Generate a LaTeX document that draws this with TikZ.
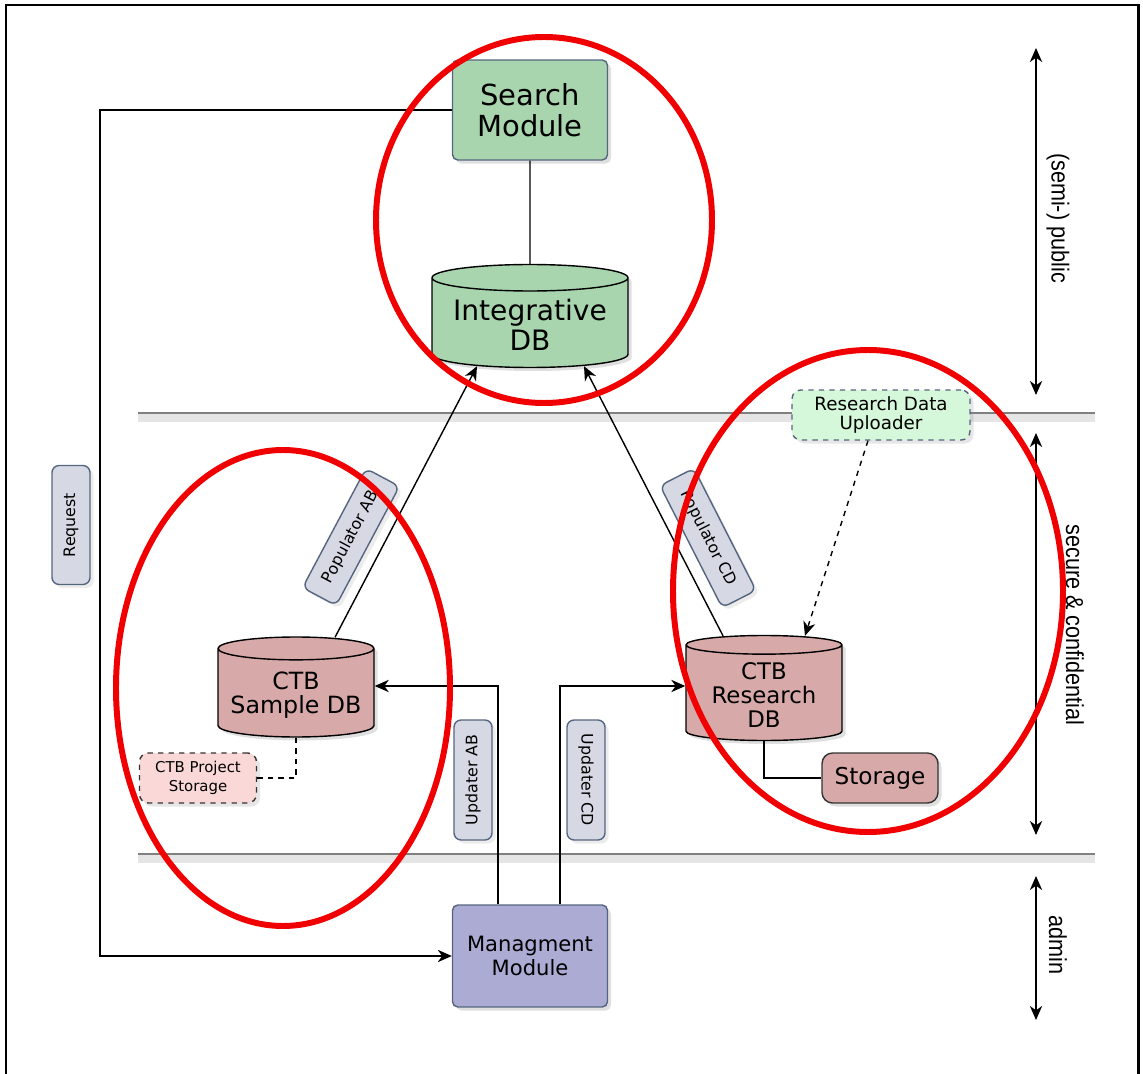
\documentclass[tikz,border=0pt]{standalone}
\usepackage{fontspec}
\setmainfont{DejaVu Sans}
\newfontfamily\sidefont[FakeStretch=0.88]{Liberation Sans}
\usetikzlibrary{shapes.geometric,arrows.meta,shadows,calc,positioning}

\definecolor{searchgreen}{HTML}{A8D5AE}
\definecolor{dbpink}{HTML}{D8A9A9}
\definecolor{lightpink}{HTML}{FAD8D8}
\definecolor{lightgreen}{HTML}{D5F7DA}
\definecolor{tagblue}{HTML}{D6D9E4}
\definecolor{mgmtblue}{HTML}{ABABD4}
\definecolor{edgeblue}{HTML}{56657F}
\definecolor{ringred}{HTML}{F00000}

\begin{document}
\begin{tikzpicture}[x=0.02cm,y=-0.02cm,>={Stealth[length=8pt,width=7pt,inset=2.5pt]},
		thick,
		module/.style={rectangle,rounded corners=3pt,draw=edgeblue,align=center,
			drop shadow={opacity=.25,shadow xshift=2pt,shadow yshift=-2pt}},
		db node/.style={cylinder,shape border rotate=90,aspect=0.16,draw=black,align=center,
			anchor=shape center,
			drop shadow={opacity=.25,shadow xshift=2pt,shadow yshift=-2pt}},
		helper/.style={rectangle,rounded corners=5pt,draw=edgeblue,dashed,align=center,
			drop shadow={opacity=.2,shadow xshift=2pt,shadow yshift=-2pt}},
		tag/.style={rectangle,rounded corners=4pt,draw=edgeblue,fill=tagblue,
			minimum height=0.76cm,font=\fontsize{9}{11}\selectfont,
			drop shadow={opacity=.15,shadow xshift=2pt,shadow yshift=-2pt}},
		side/.style={font=\sidefont\fontsize{14}{16}\selectfont},
		sepline/.style={draw=black!50,line width=1.6pt},
		ring/.style={draw=ringred,line width=3.4pt}]
		\useasboundingbox (0,0) rectangle (1143,1074);
		\draw[line width=1.7pt] (6,5) rectangle (1138,1095);

		% zone borders
		\draw[black!10,line width=5pt] (138,418) -- (1095,418);
		\draw[black!10,line width=5pt] (138,859) -- (1095,859);
		\draw[sepline] (138,413) -- (1095,413);
		\draw[sepline] (138,854) -- (1095,854);

		\node[module,fill=searchgreen,minimum width=3.1cm,minimum height=2cm,
			font=\fontsize{16.5}{17.5}\selectfont] (search) at (530,110) {Search\\Module};
		\node[db node,fill=searchgreen,minimum width=3.92cm,minimum height=2.06cm,
			font=\fontsize{16}{17}\selectfont] (idb) at (530,316) {Integrative\\DB};
		\node[db node,fill=dbpink,minimum width=3.12cm,minimum height=2cm,
			font=\fontsize{13.5}{14}\selectfont] (sampledb) at (296,687) {CTB\\Sample DB};
		\node[db node,fill=dbpink,minimum width=3.12cm,minimum height=2.1cm,
			font=\fontsize{13}{13.6}\selectfont] (researchdb) at (764,688) {CTB\\Research\\DB};
		\node[module,fill=dbpink,draw=black!80,rounded corners=6pt,minimum width=2.32cm,minimum height=1cm,
			font=\fontsize{13.2}{14}\selectfont] (storage) at (880,778) {Storage};
		\node[module,fill=mgmtblue,minimum width=3.1cm,minimum height=2.04cm,
			font=\fontsize{12}{14}\selectfont] (mgmt) at (530,956) {Managment\\Module};
		\node[helper,fill=lightgreen,minimum width=3.56cm,minimum height=1cm,
			font=\fontsize{10.4}{11.3}\selectfont] (uploader) at (881,415) {Research Data\\Uploader};
		\node[helper,fill=lightpink,draw=black!80,minimum width=2.34cm,minimum height=1cm,
			font=\fontsize{8.5}{10.5}\selectfont] (projstore) at (198,778) {CTB Project\\Storage};

		\path[->]
		(search.south) edge[-] (idb.north)
		($(sampledb.north)+(39,1)$) edge ($(idb.south)+(-53,-2)$)
		($(researchdb.north)+(-41,1)$) edge ($(idb.south)+(54,-2)$)
		($(uploader.south)+(-13,0)$) edge[dashed] ($(researchdb.north)+(41,1)$);
		\draw[->] (search.west) -- ++(-352,0) |- (mgmt.west);
		\draw[->] ($(mgmt.north)+(-32,0)$) |- ($(sampledb.east |- sampledb.shape center)+(0,-1)$);
		\draw[->] ($(mgmt.north)+(30,0)$) |- ($(researchdb.west |- researchdb.shape center)+(0,-2)$);
		\draw (researchdb.south) |- (storage.west);
		\draw[dashed] (sampledb.south) |- (projstore.east);

		\node[tag,rotate=90,minimum width=2.38cm] (request) at (71,525) {Request};
		\node[tag,rotate=62,minimum width=2.7cm] (popab) at (351,537) {Populator AB};
		\node[tag,rotate=-63,minimum width=2.74cm] (popcd) at (708,538) {Populator CD};
		\node[tag,rotate=90,minimum width=2.4cm] (updab) at (473,780) {Updater AB};
		\node[tag,rotate=-90,minimum width=2.4cm] (updcd) at (586,780) {Updater CD};

		% zones on the right
		\coordinate (pubtop) at (1036,48);
		\coordinate (pubbot) at (1036,395);
		\coordinate (sectop) at (1036,433);
		\coordinate (secbot) at (1036,835);
		\coordinate (admtop) at (1036,876);
		\coordinate (admbot) at (1036,1020);
		\draw[<->] (pubtop) -- (pubbot);
		\draw[<->] (sectop) -- (secbot);
		\draw[<->] (admtop) -- (admbot);
		\node[side,rotate=-90] (public) at (1058,218) {(semi-) public};
		\node[side,rotate=-90] (secure) at (1075,625) {secure \& confidential};
		\node[side,rotate=-90] (admin) at (1058,945) {admin};

		% highlight rings
		\draw[ring] (544,220) ellipse [x radius=168,y radius=183];
		\draw[ring] (283,688) ellipse [x radius=167,y radius=238];
		\draw[ring] (868,591) ellipse [x radius=195,y radius=241];
		\end{tikzpicture}
\end{document}
